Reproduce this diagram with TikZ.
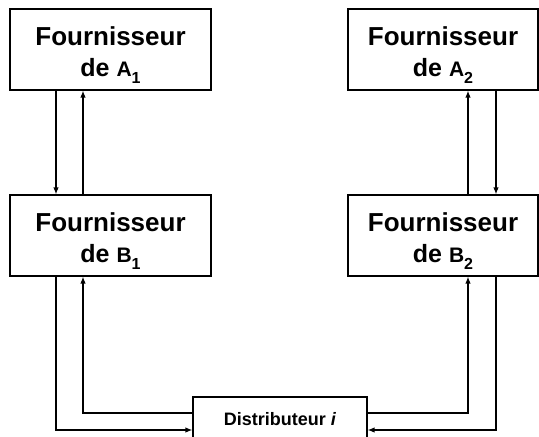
\documentclass[tikz,border=0pt]{standalone}
\usepackage{fontspec}
\setmainfont{Liberation Sans}
\usetikzlibrary{arrows.meta}
\newcommand{\supname}[2]{{\fontsize{25}{30}\selectfont de }{\fontsize{21}{25}\selectfont #1}\raisebox{-7pt}{\fontsize{16}{19}\selectfont #2}}
\begin{document}
\begin{tikzpicture}[x=1pt,y=-1pt,
  fbox/.style={draw,line width=1.1pt,inner sep=0pt,minimum height=81pt,align=center,
    font=\bfseries\fontsize{26}{30}\selectfont},
  arr/.style={line width=1.4pt,-{Latex[length=7pt,width=5.5pt]}}]
\clip (0,0) rectangle (539,437);
\fill[white] (0,0) rectangle (539,437);
\node[fbox,minimum width=201pt] (A1) at (110.5,49.5) {\rule{0pt}{29pt}Fournisseur\\[1pt]\supname{A}{1}};
\node[fbox,minimum width=201pt] (B1) at (110.5,235.5) {\rule{0pt}{29pt}Fournisseur\\[1pt]\supname{B}{1}};
\node[fbox,minimum width=190pt] (A2) at (443,49.5) {\rule{0pt}{29pt}Fournisseur\\[1pt]\supname{A}{2}};
\node[fbox,minimum width=190pt] (B2) at (443,235.5) {\rule{0pt}{29pt}Fournisseur\\[1pt]\supname{B}{2}};
\node[draw,line width=1.1pt,inner sep=0pt,minimum width=174pt,minimum height=45pt,
  font=\bfseries\fontsize{18}{21}\selectfont] (D) at (280,419.5) {Distributeur \textit{i}};
% A1 <-> B1
\draw[arr] ([xshift=-54.5pt]A1.south) -- ([xshift=-54.5pt]B1.north);
\draw[arr] ([xshift=-27.5pt]B1.north) -- ([xshift=-27.5pt]A1.south);
% A2 <-> B2
\draw[arr] ([xshift=25pt]B2.north) -- ([xshift=25pt]A2.south);
\draw[arr] ([xshift=53pt]A2.south) -- ([xshift=53pt]B2.north);
% B1 <-> D
\draw[arr] ([xshift=-54.5pt]B1.south) |- ([yshift=-10.5pt]D.west);
\draw[arr] ([yshift=6.5pt]D.west) -| ([xshift=-27.5pt]B1.south);
% B2 <-> D
\draw[arr] ([yshift=6.5pt]D.east) -| ([xshift=25pt]B2.south);
\draw[arr] ([xshift=53pt]B2.south) |- ([yshift=-10.5pt]D.east);
\end{tikzpicture}
\end{document}
